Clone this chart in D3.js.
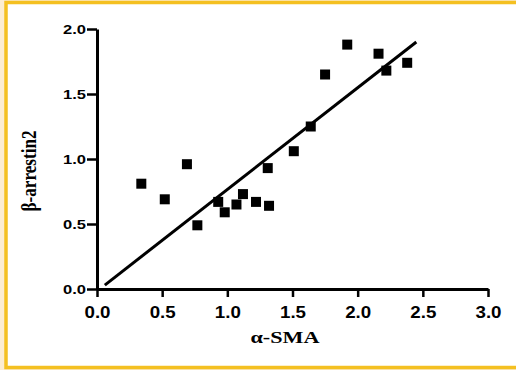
<!DOCTYPE html>
<html>
<head>
<meta charset="utf-8">
<script src="https://cdn.jsdelivr.net/npm/d3@7"></script>
<style>
  body { margin: 0; background: #fcedd2; }
  svg { display: block; }
</style>
</head>
<body>
<script>
// alpha-SMA vs beta-arrestin2
var smaValues = [0.34, 0.52, 0.69, 0.77, 0.93, 0.98, 1.07, 1.12, 1.22, 1.32, 1.31, 1.51, 1.64, 1.75, 1.92, 2.16, 2.22, 2.38];
var arrValues = [0.81, 0.69, 0.96, 0.49, 0.67, 0.59, 0.65, 0.73, 0.67, 0.64, 0.93, 1.06, 1.25, 1.65, 1.88, 1.81, 1.68, 1.74];

// regression line end points
var fitX = [0.06, 2.45];
var fitY = [0.03, 1.90];

var xTicks = [0, 0.5, 1, 1.5, 2, 2.5, 3];
var yTicks = [0, 0.5, 1, 1.5, 2];

var width = 516,
    height = 370;

var svg = d3.select("body")
            .append("svg")
            .attr("width", width)
            .attr("height", height);

// frame
svg.append("rect")
    .attr("x", 6)
    .attr("y", 2.5)
    .attr("width", width)
    .attr("height", 365)
    .attr("fill", "#fff")
    .attr("stroke", "#f4c021")
    .attr("stroke-width", 3.5);

var xScale = d3.scaleLinear()
                .domain([0, 3])
                .range([97, 488]);

var yScale = d3.scaleLinear()
                .domain([0, 2])
                .range([289, 29]);

var xAxis = d3.axisBottom(xScale)
                .tickValues(xTicks)
                .tickSize(8)
                .tickPadding(10)
                .tickSizeOuter(0)
                .tickFormat(d3.format(".1f"));

var yAxis = d3.axisLeft(yScale)
                .tickValues(yTicks)
                .tickSize(10)
                .tickPadding(1)
                .tickSizeOuter(0)
                .tickFormat(d3.format(".1f"));

var gx = svg.append("g")
    .attr("transform", "translate(0," + yScale(0) + ")")
    .call(xAxis);

var gy = svg.append("g")
    .attr("transform", "translate(" + xScale(0) + ",0)")
    .call(yAxis);

[gx, gy].forEach(function (g) {
    g.select(".domain").attr("stroke", "#000").attr("stroke-width", 3);
    g.selectAll(".tick line").attr("stroke", "#000").attr("stroke-width", 2.5);
    g.selectAll(".tick text")
        .attr("fill", "#000")
        .style("font-family", "Arial, 'Liberation Sans', sans-serif")
        .style("font-weight", "bold")
        .attr("lengthAdjust", "spacingAndGlyphs");
});

gx.selectAll(".tick text")
    .style("font-size", "16px")
    .attr("textLength", 26);

gy.selectAll(".tick text")
    .style("font-size", "13.5px")
    .attr("textLength", 23);

// fit line
svg.append("line")
    .attr("x1", xScale(fitX[0]))
    .attr("y1", yScale(fitY[0]))
    .attr("x2", xScale(fitX[1]))
    .attr("y2", yScale(fitY[1]))
    .attr("stroke", "#000")
    .attr("stroke-width", 3);

// points
var data = smaValues.map(function (v, i) { return { x: v, y: arrValues[i] }; });
var size = 10;

svg.append("g")
    .selectAll("rect")
    .data(data)
    .enter()
    .append("rect")
    .attr("x", function (d) { return xScale(d.x) - size / 2; })
    .attr("y", function (d) { return yScale(d.y) - size / 2; })
    .attr("width", size)
    .attr("height", size)
    .attr("fill", "#000");

// axis titles
svg.append("text")
    .attr("x", 285)
    .attr("y", 343)
    .attr("text-anchor", "middle")
    .attr("textLength", 69)
    .attr("lengthAdjust", "spacingAndGlyphs")
    .style("font-family", "'Liberation Serif', 'Times New Roman', serif")
    .style("font-weight", "bold")
    .style("font-size", "17px")
    .text("α-SMA");

svg.append("text")
    .attr("transform", "translate(36,171) scale(1.25,1) rotate(-90)")
    .attr("text-anchor", "middle")
    .attr("textLength", 81)
    .attr("lengthAdjust", "spacingAndGlyphs")
    .style("font-family", "'Liberation Serif', 'Times New Roman', serif")
    .style("font-weight", "bold")
    .style("font-size", "17px")
    .text("β-arrestin2");
</script>
</body>
</html>
